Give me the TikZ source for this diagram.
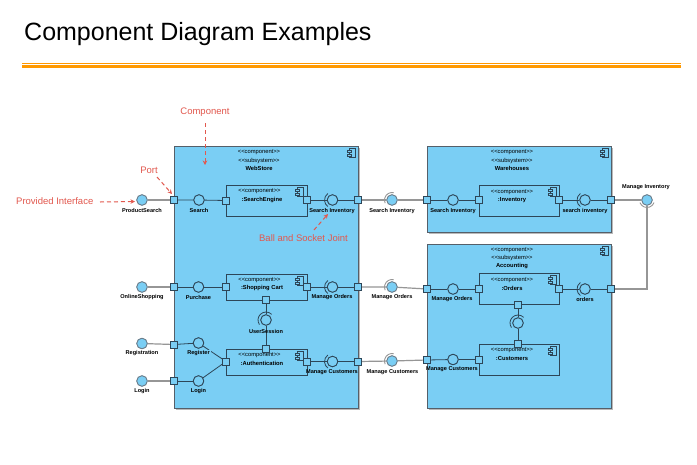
\documentclass[tikz,border=0pt]{standalone}
\usepackage{fontspec}
\setmainfont{Liberation Sans}
\newfontfamily\stfont{Liberation Sans}[Ligatures=TeXOff]
\usetikzlibrary{arrows.meta}
\definecolor{subfill}{RGB}{122,206,244}
\definecolor{dk}{RGB}{45,70,88}
\definecolor{subdraw}{RGB}{85,95,105}
\definecolor{gr}{RGB}{150,150,150}
\definecolor{ann}{RGB}{226,88,78}
\definecolor{org}{RGB}{255,153,0}
\tikzset{cicon/.pic={
 \draw[dk,line width=0.6pt,fill=subfill] (-2.5,-4.5) rectangle (3,4.5);
 \draw[dk,line width=0.6pt,fill=subfill] (-4.5,-2.8) rectangle (-0.5,-1);
 \draw[dk,line width=0.6pt,fill=subfill] (-4.5,1) rectangle (-0.5,2.8);
}}
\begin{document}
\begin{tikzpicture}[x=1pt,y=-1pt,
 subsys/.style={draw=subdraw,fill=subfill,line width=1pt,inner sep=0},
 compbox/.style={draw=dk,fill=subfill,line width=0.8pt,inner sep=0},
 port/.style={rectangle,draw=dk,fill=subfill,minimum size=6pt,inner sep=0,line width=0.7pt},
 ball/.style={circle,draw=dk,fill=subfill,minimum size=10.5pt,inner sep=0,line width=0.8pt},
 eball/.style={circle,draw=dk!70,fill=subfill,minimum size=10.5pt,inner sep=0,line width=0.8pt},
 inl/.style={dk,line width=0.8pt},
 exl/.style={gr,line width=1.2pt},
 lbl/.style={font=\bfseries\fontsize{5.6}{6}\selectfont,inner sep=0.3pt},
 st/.style={font=\stfont\fontsize{5.8}{6}\selectfont,inner sep=0},
 nm/.style={font=\bfseries\fontsize{5.8}{6}\selectfont,inner sep=0},
 anntext/.style={text=ann,font=\fontsize{9.5}{10}\selectfont,inner sep=0},
 annarrow/.style={ann,line width=1pt,dash pattern=on 4pt off 3pt,-{Stealth[length=4.5pt,width=4.5pt]}},
]
\fill[white] (0,0) rectangle (697,464);
\useasboundingbox (0,0) rectangle (697,464);
% title
\node[anchor=base west,inner sep=0,font=\fontsize{25}{25}\selectfont] (title) at (24,40) {Component Diagram Examples};
\draw[org,line width=0.8pt] (22,63.3) -- (681,63.3);
\draw[org,line width=2.6pt] (22,66.3) -- (681,66.3);
% shadows
\fill[gray!55] (175.5,147.5) rectangle (359.5,409.5);
\fill[gray!55] (428.5,147.5) rectangle (612.5,233.5);
\fill[gray!55] (428.5,245.5) rectangle (612.5,409.5);
% subsystems
\node[subsys,minimum width=184pt,minimum height=262pt] (ws) at (266,277) {};
\node[subsys,minimum width=184pt,minimum height=86pt] (wh) at (519,189) {};
\node[subsys,minimum width=184pt,minimum height=164pt] (ac) at (519,326) {};
\pic at (352,153) {cicon};
\pic at (605,153) {cicon};
\pic at (605,251) {cicon};
\node[st] (ws1) at (259,152.5) {<<component>>};
\node[st] (ws2) at (259,160.5) {<<subsystem>>};
\node[nm] (ws3) at (259,168.5) {WebStore};
\node[st] (wh1) at (512,152.5) {<<component>>};
\node[st] (wh2) at (512,160.5) {<<subsystem>>};
\node[nm] (wh3) at (512,168.5) {Warehouses};
\node[st] (ac1) at (512,250) {<<component>>};
\node[st] (ac2) at (512,258) {<<subsystem>>};
\node[nm] (ac3) at (512,266.5) {Accounting};
% components
\node[compbox,minimum width=81pt,minimum height=31pt] (se) at (266.5,200.5) {};
\node[compbox,minimum width=81pt,minimum height=26pt] (sc) at (266.5,287) {};
\node[compbox,minimum width=81pt,minimum height=26pt] (au) at (266.5,362) {};
\node[compbox,minimum width=80pt,minimum height=31pt] (inv) at (519,200.5) {};
\node[compbox,minimum width=80pt,minimum height=31pt] (ord) at (519,288.5) {};
\node[compbox,minimum width=80pt,minimum height=31pt] (cus) at (519,359.5) {};
\pic at (300,192) {cicon};
\pic at (300,281) {cicon};
\pic at (300,356) {cicon};
\pic at (553,192) {cicon};
\pic at (553,280) {cicon};
\pic at (553,351) {cicon};
\node[st] (se1) at (259.5,191.5) {<<component>>};
\node[nm] (se2) at (262,200) {:SearchEngine};
\node[st] (sc1) at (259.5,280) {<<component>>};
\node[nm] (sc2) at (262,288.5) {:Shopping Cart};
\node[st] (au1) at (259.5,355.5) {<<component>>};
\node[nm] (au2) at (262,363.5) {:Authentication};
\node[st] (inv1) at (512,192) {<<component>>};
\node[nm] (inv2) at (512,200.3) {:Inventory};
\node[st] (ord1) at (512,280) {<<component>>};
\node[nm] (ord2) at (512,288.3) {:Orders};
\node[st] (cus1) at (512,350) {<<component>>};
\node[nm] (cus2) at (512,358.5) {:Customers};
% ball positions
\coordinate (cPS) at (142,200);
\coordinate (cSearch) at (199,200);
\coordinate (cSI1) at (332.5,200);
\coordinate (cSI2) at (392,200);
\coordinate (cSI3) at (453,200);
\coordinate (cSI4) at (585,200);
\coordinate (cMI) at (647,200);
\coordinate (cOS) at (142,287);
\coordinate (cPur) at (198.5,287);
\coordinate (cMO1) at (332.5,287);
\coordinate (cMO2) at (392,287);
\coordinate (cMO3) at (453,289);
\coordinate (cOrd) at (585,289);
\coordinate (cUS) at (266,320);
\coordinate (cOB) at (518,323);
\coordinate (cReg) at (142,343.5);
\coordinate (cRegI) at (198.5,343);
\coordinate (cLog) at (142,381);
\coordinate (cLogI) at (198.5,381);
\coordinate (cMC1) at (332.5,361.5);
\coordinate (cMC2) at (392,361);
\coordinate (cMC3) at (453,359.5);
% ports
\node[port] (p1) at (174,200) {};
\node[port] (pSEL) at (226,200.5) {};
\node[port] (pSER) at (307,200) {};
\node[port] (pWSR1) at (358,200) {};
\node[port] (pWHL) at (427,200) {};
\node[port] (pInvL) at (479,200) {};
\node[port] (pInvR) at (559,200) {};
\node[port] (pWHR) at (611,200) {};
\node[port] (p2) at (174,287) {};
\node[port] (pSCL) at (226,287) {};
\node[port] (pSCR) at (307,287) {};
\node[port] (pWSR2) at (358,287) {};
\node[port] (pAcL1) at (427,289) {};
\node[port] (pOrL) at (479,289) {};
\node[port] (pOrR) at (559,289) {};
\node[port] (pAcR) at (611,289) {};
\node[port] (pSCB) at (266,300) {};
\node[port] (pAuT) at (266,349) {};
\node[port] (pOrB) at (518,304.5) {};
\node[port] (pCuT) at (518,344) {};
\node[port] (p3) at (174,344.5) {};
\node[port] (p4) at (174,381) {};
\node[port] (pAuL) at (226,361.5) {};
\node[port] (pAuR) at (307,361.5) {};
\node[port] (pWSR3) at (358,361.5) {};
\node[port] (pAcL2) at (427,360) {};
\node[port] (pCuL) at (479,359.5) {};
% balls
\node[eball] (PS) at (cPS) {};
\node[ball] (Search) at (cSearch) {};
\node[ball] (SI1) at (cSI1) {};
\node[eball] (SI2) at (cSI2) {};
\node[ball] (SI3) at (cSI3) {};
\node[ball] (SI4) at (cSI4) {};
\node[eball] (MI) at (cMI) {};
\node[eball] (OS) at (cOS) {};
\node[ball] (Pur) at (cPur) {};
\node[ball] (MO1) at (cMO1) {};
\node[eball] (MO2) at (cMO2) {};
\node[ball] (MO3) at (cMO3) {};
\node[ball] (Ordb) at (cOrd) {};
\node[ball] (US) at (cUS) {};
\node[ball] (OB) at (cOB) {};
\node[eball] (Reg) at (cReg) {};
\node[ball] (RegI) at (cRegI) {};
\node[eball] (Log) at (cLog) {};
\node[ball] (LogI) at (cLogI) {};
\node[ball] (MC1) at (cMC1) {};
\node[eball] (MC2) at (cMC2) {};
\node[ball] (MC3) at (cMC3) {};
% external connectors (gray)
\draw[exl] (PS) -- (p1);
\draw[exl] (OS) -- (p2);
\draw[exl] (Reg) -- (p3);
\draw[exl] (Log) -- (p4);
\draw[exl] (pWSR1) -- (SI2) -- (pWHL);
\draw[exl] (pWSR2) -- (MO2) -- (pAcL1);
\draw[exl] (pWSR3) -- (MC2) -- (pAcL2);
\draw[exl] (pWHR) -- (MI);
\draw[exl] (MI) |- (pAcR);
% internal connectors
\draw[inl] (p1) -- (Search) -- (pSEL);
\draw[inl] (pSER) -- (SI1) -- (pWSR1);
\draw[inl] (pWHL) -- (SI3) -- (pInvL);
\draw[inl] (pInvR) -- (SI4) -- (pWHR);
\draw[inl] (p2) -- (Pur) -- (pSCL);
\draw[inl] (pSCR) -- (MO1) -- (pWSR2);
\draw[inl] (pSCB) -- (US) -- (pAuT);
\draw[inl] (p3) -- (RegI);
\draw[inl] (RegI) -- (pAuL);
\draw[inl] (p4) -- (LogI);
\draw[inl] (LogI) -- (pAuL);
\draw[inl] (pAuR) -- (MC1) -- (pWSR3);
\draw[inl] (pAcL1) -- (MO3) -- (pOrL);
\draw[inl] (pOrR) -- (Ordb) -- (pAcR);
\draw[inl] (pOrB) -- (OB) -- (pCuT);
\draw[inl] (pAcL2) -- (MC3) -- (pCuL);
% redraw ports and balls on top of lines
\foreach \p in {p1,pSEL,pSER,pWSR1,pWHL,pInvL,pInvR,pWHR,p2,pSCL,pSCR,pWSR2,pAcL1,pOrL,pOrR,pAcR,pSCB,pAuT,pOrB,pCuT,p3,p4,pAuL,pAuR,pWSR3,pAcL2,pCuL}
  \draw[dk,fill=subfill,line width=0.7pt] (\p.north west) rectangle (\p.south east);
\foreach \b in {Search,SI1,SI3,SI4,Pur,MO1,MO3,Ordb,US,OB,RegI,LogI,MC1,MC3}
  \draw[dk,fill=subfill,line width=0.8pt] (\b.center) circle[radius=5.25pt];
\foreach \b in {PS,SI2,MI,OS,MO2,Reg,Log,MC2}
  \draw[dk!70,fill=subfill,line width=0.8pt] (\b.center) circle[radius=5.25pt];
% sockets
\foreach \b in {SI1,SI4,MO1,Ordb,MC1}
  \draw[dk,line width=0.8pt] ([shift={(125:8pt)}]\b.center) arc[start angle=125,end angle=235,radius=8pt];
\foreach \b in {US,OB}
  \draw[dk,line width=0.8pt] ([shift={(45:8pt)}]\b.center) arc[start angle=45,end angle=215,radius=8pt];
\foreach \b in {SI2,MO2,MC2}
  \draw[gr,line width=0.9pt] ([shift={(75:7.5pt)}]\b.center) arc[start angle=75,end angle=205,radius=7.5pt];
\draw[gr,line width=0.9pt] ([shift={(200:7.5pt)}]MI.center) arc[start angle=200,end angle=340,radius=7.5pt];
% labels
\node[lbl] (lPS) at (142,210) {ProductSearch};
\node[lbl] (lSearch) at (199,210.5) {Search};
\node[lbl] (lSI1) at (332,211) {Search Inventory};
\node[lbl] (lSI2) at (392,211) {Search Inventory};
\node[lbl] (lSI3) at (453,211) {Search Inventory};
\node[lbl] (lSI4) at (585,211) {search inventory};
\node[lbl] (lMI) at (646,187) {Manage Inventory};
\node[lbl] (lOS) at (142,297) {OnlineShopping};
\node[lbl] (lPur) at (198.5,297) {Purchase};
\node[lbl] (lMO1) at (332,297) {Manage Orders};
\node[lbl] (lMO2) at (392,297) {Manage Orders};
\node[lbl] (lMO3) at (452,299.5) {Manage Orders};
\node[lbl] (lOrd) at (585,299) {orders};
\node[lbl] (lUS) at (266,331) {UserSession};
\node[lbl] (lReg) at (142,353.5) {Registration};
\node[lbl,fill=subfill,inner sep=1.2pt] (lRegI) at (198.5,353.5) {Register};
\node[lbl] (lLog) at (142,391) {Login};
\node[lbl] (lLogI) at (198.5,391) {Login};
\node[lbl] (lMC1) at (332,372) {Manage Customers};
\node[lbl] (lMC2) at (392.5,372.5) {Manage Customers};
\node[lbl] (lMC3) at (452,369.5) {Manage Customers};
% annotations
\node[anntext] (aComp) at (205,112.5) {Component};
\coordinate (aComp1) at (205,123);
\coordinate (aComp2) at (205,165);
\draw[annarrow] (aComp1) -- (aComp2);
\node[anntext] (aPort) at (149,170.5) {Port};
\coordinate (aPort1) at (157,177);
\coordinate (aPort2) at (172,194);
\draw[annarrow] (aPort1) -- (aPort2);
\node[anntext,anchor=west] (aPI) at (16,201.5) {Provided Interface};
\coordinate (aPI1) at (100,202);
\coordinate (aPI2) at (135,201.5);
\draw[annarrow] (aPI1) -- (aPI2);
\node[anntext] (aBS) at (303.5,238.3) {Ball and Socket Joint};
\coordinate (aBS1) at (314,230);
\coordinate (aBS2) at (328,214);
\draw[annarrow] (aBS1) -- (aBS2);
\end{tikzpicture}
\end{document}
